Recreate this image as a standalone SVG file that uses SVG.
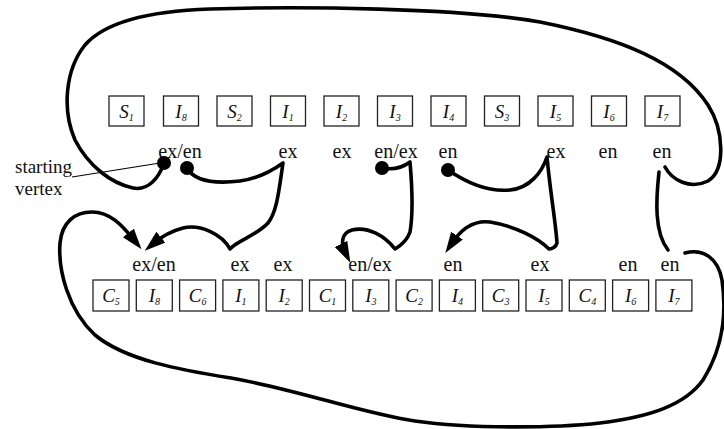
<svg xmlns="http://www.w3.org/2000/svg" width="724" height="429" viewBox="0 0 724 429">
  <style>
    .box { fill: #fff; stroke: #222; stroke-width: 1.3; }
    .sym { font-family: "Liberation Serif", "Times New Roman", serif; font-style: italic; font-size: 19px; fill: #111; text-anchor: middle; }
    .sub { font-size: 10px; }
    .lbl { font-family: "Liberation Serif", "Times New Roman", serif; font-size: 20px; fill: #111; text-anchor: middle; }
    .note { font-family: "Liberation Serif", "Times New Roman", serif; font-size: 19px; fill: #111; }
    .edge { fill: none; stroke: #000; stroke-width: 3.6; stroke-linecap: round; stroke-linejoin: round; }
    .arrow { marker-end: url(#head); }
    .dot { fill: #000; }
  </style>
  <defs>
    <marker id="head" markerUnits="userSpaceOnUse" markerWidth="22" markerHeight="16" refX="9" refY="7" orient="auto">
      <path d="M0,0 L21,7 L0,14 z" fill="#000"/>
    </marker>
  </defs>
  <rect width="724" height="429" fill="#fff"/>

  <!-- upper row of blocks -->
  <g id="top-S1"><rect class="box" x="109" y="96" width="35" height="30"/><text class="sym" x="126.5" y="118">S<tspan class="sub" dy="3">1</tspan></text></g>
  <g id="top-I8"><rect class="box" x="163.5" y="96" width="35" height="30"/><text class="sym" x="181" y="118">I<tspan class="sub" dy="3">8</tspan></text></g>
  <g id="top-S2"><rect class="box" x="217" y="96" width="35" height="30"/><text class="sym" x="234.5" y="118">S<tspan class="sub" dy="3">2</tspan></text></g>
  <g id="top-I1"><rect class="box" x="270.5" y="96" width="35" height="30"/><text class="sym" x="288" y="118">I<tspan class="sub" dy="3">1</tspan></text></g>
  <g id="top-I2"><rect class="box" x="324" y="96" width="35" height="30"/><text class="sym" x="341.5" y="118">I<tspan class="sub" dy="3">2</tspan></text></g>
  <g id="top-I3"><rect class="box" x="377.5" y="96" width="35" height="30"/><text class="sym" x="395" y="118">I<tspan class="sub" dy="3">3</tspan></text></g>
  <g id="top-I4"><rect class="box" x="431" y="96" width="35" height="30"/><text class="sym" x="448.5" y="118">I<tspan class="sub" dy="3">4</tspan></text></g>
  <g id="top-S3"><rect class="box" x="484.5" y="96" width="35" height="30"/><text class="sym" x="502" y="118">S<tspan class="sub" dy="3">3</tspan></text></g>
  <g id="top-I5"><rect class="box" x="538" y="96" width="35" height="30"/><text class="sym" x="555.5" y="118">I<tspan class="sub" dy="3">5</tspan></text></g>
  <g id="top-I6"><rect class="box" x="591.5" y="96" width="35" height="30"/><text class="sym" x="609" y="118">I<tspan class="sub" dy="3">6</tspan></text></g>
  <g id="top-I7"><rect class="box" x="645" y="96" width="35" height="30"/><text class="sym" x="662.5" y="118">I<tspan class="sub" dy="3">7</tspan></text></g>

  <!-- lower row of blocks -->
  <g id="bot-C5"><rect class="box" x="93" y="280" width="36" height="31"/><text class="sym" x="111" y="301.5">C<tspan class="sub" dy="3">5</tspan></text></g>
  <g id="bot-I8"><rect class="box" x="136.3" y="280" width="36" height="31"/><text class="sym" x="154.3" y="301.5">I<tspan class="sub" dy="3">8</tspan></text></g>
  <g id="bot-C6"><rect class="box" x="179.6" y="280" width="36" height="31"/><text class="sym" x="197.6" y="301.5">C<tspan class="sub" dy="3">6</tspan></text></g>
  <g id="bot-I1"><rect class="box" x="222.9" y="280" width="36" height="31"/><text class="sym" x="240.9" y="301.5">I<tspan class="sub" dy="3">1</tspan></text></g>
  <g id="bot-I2"><rect class="box" x="266.2" y="280" width="36" height="31"/><text class="sym" x="284.2" y="301.5">I<tspan class="sub" dy="3">2</tspan></text></g>
  <g id="bot-C1"><rect class="box" x="309.5" y="280" width="36" height="31"/><text class="sym" x="327.5" y="301.5">C<tspan class="sub" dy="3">1</tspan></text></g>
  <g id="bot-I3"><rect class="box" x="352.8" y="280" width="36" height="31"/><text class="sym" x="370.8" y="301.5">I<tspan class="sub" dy="3">3</tspan></text></g>
  <g id="bot-C2"><rect class="box" x="396.1" y="280" width="36" height="31"/><text class="sym" x="414.1" y="301.5">C<tspan class="sub" dy="3">2</tspan></text></g>
  <g id="bot-I4"><rect class="box" x="439.4" y="280" width="36" height="31"/><text class="sym" x="457.4" y="301.5">I<tspan class="sub" dy="3">4</tspan></text></g>
  <g id="bot-C3"><rect class="box" x="482.7" y="280" width="36" height="31"/><text class="sym" x="500.7" y="301.5">C<tspan class="sub" dy="3">3</tspan></text></g>
  <g id="bot-I5"><rect class="box" x="526" y="280" width="36" height="31"/><text class="sym" x="544" y="301.5">I<tspan class="sub" dy="3">5</tspan></text></g>
  <g id="bot-C4"><rect class="box" x="569.3" y="280" width="36" height="31"/><text class="sym" x="587.3" y="301.5">C<tspan class="sub" dy="3">4</tspan></text></g>
  <g id="bot-I6"><rect class="box" x="612.6" y="280" width="36" height="31"/><text class="sym" x="630.6" y="301.5">I<tspan class="sub" dy="3">6</tspan></text></g>
  <g id="bot-I7"><rect class="box" x="655.9" y="280" width="36" height="31"/><text class="sym" x="673.9" y="301.5">I<tspan class="sub" dy="3">7</tspan></text></g>

  <!-- entry / exit labels -->
  <g id="labels">
    <text class="lbl" x="180" y="158">ex/en</text>
    <text class="lbl" x="288" y="158">ex</text>
    <text class="lbl" x="342" y="158">ex</text>
    <text class="lbl" x="396" y="158">en/ex</text>
    <text class="lbl" x="448" y="158">en</text>
    <text class="lbl" x="556" y="158">ex</text>
    <text class="lbl" x="608" y="158">en</text>
    <text class="lbl" x="662" y="158">en</text>

    <text class="lbl" x="154" y="271">ex/en</text>
    <text class="lbl" x="240" y="271">ex</text>
    <text class="lbl" x="283" y="271">ex</text>
    <text class="lbl" x="370" y="271">en/ex</text>
    <text class="lbl" x="453" y="271">en</text>
    <text class="lbl" x="540" y="271">ex</text>
    <text class="lbl" x="628" y="271">en</text>
    <text class="lbl" x="670" y="271">en</text>

    <text class="note" x="15" y="173">starting</text>
    <text class="note" x="15" y="195">vertex</text>
  </g>

  <!-- tour connectors -->
  <g id="connectors">
    <line x1="72" y1="177" x2="160" y2="163" stroke="#000" stroke-width="1.1"/>
    <!-- outer loop over the upper row -->
    <path class="edge" d="M665,167 C672,180 690,190 708,181 C726,170 724,130 708,105 C680,62 620,38 540,22 C460,8 300,6 210,9 C150,11 105,22 85,45 C65,70 62,110 75,140 C88,165 110,183 133,188 C148,191 159,178 164,163"/>
    <!-- I8 exit to I1, back to I8 -->
    <path class="edge arrow" d="M187,168 C195,182 215,184 240,181 C262,178 276,168 283,163 C279,190 277,212 268,223 C256,236 236,241 230,249 C222,234 200,224 183,228 C168,232 160,238 154,243"/>
    <!-- I3 loop -->
    <path class="edge arrow" d="M382,168 C392,170 402,168 410,162 C412,185 413,215 410,232 C407,241 400,246 395,249 C385,236 368,226 352,230 C341,233 341,244 345,252"/>
    <!-- I4 to I5 and back -->
    <path class="edge arrow" d="M448,170 C470,185 490,192 510,190 C530,188 542,172 547,157 C550,190 556,225 557,243 C556,247 552,249 549,249 C538,238 515,226 490,222 C474,220 462,228 452,243"/>
    <!-- I7 drop -->
    <path class="edge" d="M659,172 C656,200 654,232 668,250"/>
    <!-- outer loop under the lower row -->
    <path class="edge arrow" d="M685,253 C703,248 718,258 722,280 C727,315 722,350 703,380 C685,405 650,417 600,423 C555,428 470,429 415,421 C360,413 300,390 231,378 C180,370 125,360 95,335 C68,310 58,270 60,243 C62,222 75,212 92,212 C110,212 122,225 134,240"/>
    <circle class="dot" cx="164" cy="163" r="7"/>
    <circle class="dot" cx="187" cy="168" r="7"/>
    <circle class="dot" cx="382" cy="168" r="7"/>
    <circle class="dot" cx="448" cy="170" r="7"/>
  </g>
</svg>
